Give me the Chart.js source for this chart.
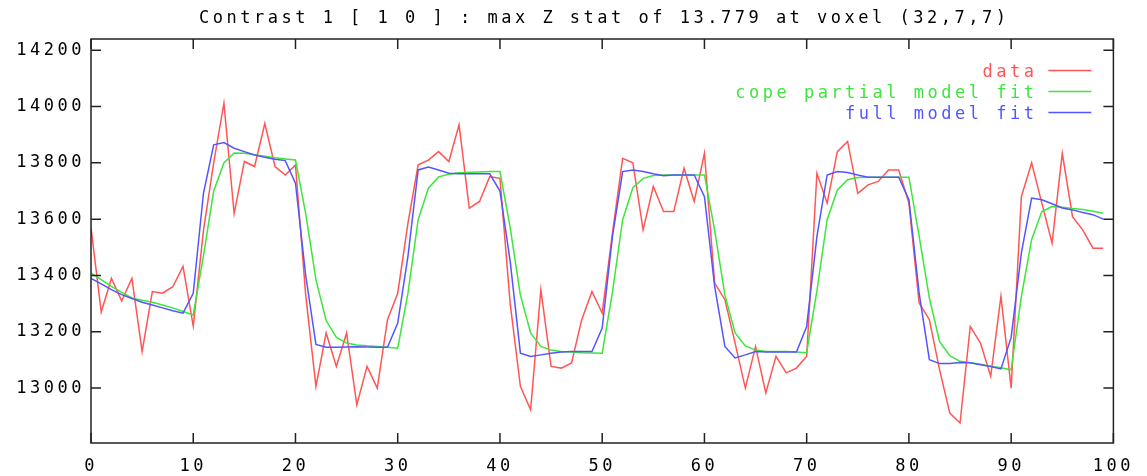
<!DOCTYPE html>
<html>
<head>
<meta charset="utf-8">
<script src="https://cdn.jsdelivr.net/npm/chart.js@4"></script>
<style>
  html, body { margin: 0; padding: 0; background: #fff; }
  #wrap { width: 1147px; height: 476px; }
</style>
</head>
<body>
<div id="wrap"><canvas id="chartCanvas" width="1147" height="476"></canvas></div>
<script>
// ------- Data -------
const chartTitle = "Contrast 1 [ 1 0 ] : max Z stat of 13.779 at voxel (32,7,7)";
const seriesNames = ["data", "cope partial model fit", "full model fit"];
const seriesColors = ["rgb(255,85,85)", "rgb(60,230,60)", "rgb(85,85,255)"];

const xTicks = [0, 10, 20, 30, 40, 50, 60, 70, 80, 90, 100];
const yTicks = [13000, 13200, 13400, 13600, 13800, 14000, 14200];

const dataValues = [
  13570, 13270, 13390, 13310, 13390, 13130, 13343, 13337, 13360, 13432,
  13220, 13560, 13800, 14012, 13620, 13805, 13787, 13940, 13787, 13757,
  13793, 13330, 13006, 13196, 13077, 13196, 12941, 13077, 13000, 13243,
  13337, 13586, 13793, 13810, 13840, 13805, 13935, 13639, 13663, 13751,
  13745, 13300, 13006, 12923, 13350, 13077, 13071, 13089, 13243, 13343,
  13266, 13550, 13816, 13800, 13562, 13716, 13627, 13627, 13781, 13663,
  13834, 13373, 13314, 13160, 13000, 13148, 12983, 13113, 13054, 13071,
  13113, 13763, 13657, 13840, 13876, 13692, 13722, 13734, 13775, 13775,
  13657, 13302, 13243, 13065, 12911, 12876, 13219, 13160, 13042, 13326,
  13000, 13680, 13800, 13657, 13515, 13834, 13609, 13562, 13497, 13497
];

const copeFit = [
  13408, 13385, 13361, 13340, 13320, 13312, 13305, 13295, 13285, 13272,
  13260, 13470, 13700, 13800, 13835, 13834, 13829, 13824, 13818, 13814,
  13810, 13620, 13385, 13240, 13180, 13160, 13153, 13150, 13148, 13145,
  13142, 13337, 13598, 13710, 13750, 13760, 13765, 13767, 13768, 13769,
  13769, 13570, 13330, 13196, 13148, 13135, 13130, 13128, 13126, 13125,
  13124, 13340, 13598, 13712, 13745, 13755, 13757, 13757, 13757, 13757,
  13757, 13560, 13330, 13196, 13150, 13135, 13130, 13130, 13130, 13128,
  13126, 13345, 13598, 13704, 13740, 13748, 13749, 13749, 13749, 13749,
  13749, 13540, 13320, 13165, 13115, 13095, 13090, 13085, 13078, 13072,
  13065, 13326, 13527, 13627, 13645, 13642, 13638, 13634, 13628, 13621
];

const fullFit = [
  13390, 13370, 13350, 13332, 13318, 13305, 13295, 13285, 13275, 13266,
  13337, 13692, 13864, 13872, 13852, 13840, 13828, 13820, 13813, 13808,
  13728, 13400, 13155, 13145, 13145, 13146, 13147, 13146, 13145, 13145,
  13231, 13468, 13775, 13785, 13775, 13763, 13761, 13761, 13761, 13761,
  13700, 13450, 13124, 13112, 13118, 13124, 13128, 13130, 13130, 13130,
  13213, 13538, 13769, 13775, 13769, 13761, 13754, 13757, 13757, 13757,
  13680, 13361, 13148, 13107, 13118, 13130, 13128, 13128, 13128, 13128,
  13219, 13538, 13757, 13769, 13766, 13757, 13749, 13749, 13749, 13749,
  13669, 13337, 13101, 13087, 13087, 13091, 13090, 13083, 13077, 13068,
  13180, 13480, 13675, 13669, 13655, 13640, 13633, 13624, 13616, 13600
];

// ------- Look -------
const FONT = '17px "DejaVu Sans Mono", "Liberation Mono", monospace';
const SPACING = "3.5px";
const toPoints = (arr) => arr.map((v, i) => ({ x: i, y: v }));

// gnuplot-like frame, inward ticks, title and legend
const gnuplotFrame = {
  id: "gnuplotFrame",
  beforeLayout(chart) { chart.ctx.letterSpacing = SPACING; },
  beforeDraw(chart) { chart.ctx.letterSpacing = SPACING; },
  afterDraw(chart) {
    const { ctx, chartArea: a, scales } = chart;
    ctx.save();
    ctx.letterSpacing = SPACING;
    ctx.strokeStyle = "#222";
    ctx.lineWidth = 1.5;
    ctx.strokeRect(a.left, a.top, a.right - a.left, a.bottom - a.top);

    const len = 10;
    ctx.beginPath();
    yTicks.forEach((v) => {
      const y = scales.y.getPixelForValue(v);
      ctx.moveTo(a.left, y); ctx.lineTo(a.left + len, y);
      ctx.moveTo(a.right, y); ctx.lineTo(a.right - len, y);
    });
    xTicks.forEach((v) => {
      const x = scales.x.getPixelForValue(v);
      ctx.moveTo(x, a.bottom); ctx.lineTo(x, a.bottom - len);
      ctx.moveTo(x, a.top); ctx.lineTo(x, a.top + len);
    });
    ctx.stroke();

    // title
    ctx.font = FONT;
    ctx.fillStyle = "#000";
    ctx.textAlign = "center";
    ctx.textBaseline = "alphabetic";
    ctx.fillText(chartTitle, (a.left + a.right) / 2 + 2, 23);

    // legend, text right aligned with a line sample
    ctx.textAlign = "right";
    seriesNames.forEach((name, k) => {
      const base = a.top + 38 + k * 21;
      ctx.fillStyle = seriesColors[k];
      ctx.fillText(name, a.right - 76, base);
      ctx.strokeStyle = seriesColors[k];
      ctx.lineWidth = 1.5;
      ctx.beginPath();
      ctx.moveTo(a.right - 65, base - 6.5);
      ctx.lineTo(a.right - 22, base - 6.5);
      ctx.stroke();
    });
    ctx.restore();
  },
};

function renderChart() {
  const ctx = document.getElementById("chartCanvas").getContext("2d");
  new Chart(ctx, {
    type: "line",
    data: {
      datasets: [
        { label: seriesNames[0], data: toPoints(dataValues), borderColor: seriesColors[0], order: 3 },
        { label: seriesNames[1], data: toPoints(copeFit), borderColor: seriesColors[1], order: 2 },
        { label: seriesNames[2], data: toPoints(fullFit), borderColor: seriesColors[2], order: 1 },
      ],
    },
    options: {
      responsive: false,
      animation: false,
      layout: { padding: { top: 39, left: 0, right: 25, bottom: 0 } },
      elements: {
        line: { borderWidth: 1.5, tension: 0, fill: false },
        point: { radius: 0 },
      },
      plugins: {
        legend: { display: false },
        title: { display: false },
        tooltip: { enabled: false },
      },
      scales: {
        x: {
          type: "linear",
          min: 0,
          max: 100,
          afterBuildTicks: (s) => { s.ticks = xTicks.map((v) => ({ value: v })); },
          afterFit: (s) => { s.height = 33; },
          grid: { display: false, drawTicks: false },
          border: { display: false },
          ticks: {
            color: "#000",
            font: { family: '"DejaVu Sans Mono"', size: 17 },
            padding: 13,
            maxRotation: 0,
            callback: (v) => String(v),
          },
        },
        y: {
          type: "linear",
          min: 12805,
          max: 14240,
          afterBuildTicks: (s) => { s.ticks = yTicks.map((v) => ({ value: v })); },
          afterFit: (s) => { s.width = 91; },
          grid: { display: false, drawTicks: false },
          border: { display: false },
          ticks: {
            color: "#000",
            font: { family: '"DejaVu Sans Mono"', size: 17 },
            padding: 6,
            callback: (v) => String(v),
          },
        },
      },
    },
    plugins: [gnuplotFrame],
  });
}

renderChart();
</script>
</body>
</html>
